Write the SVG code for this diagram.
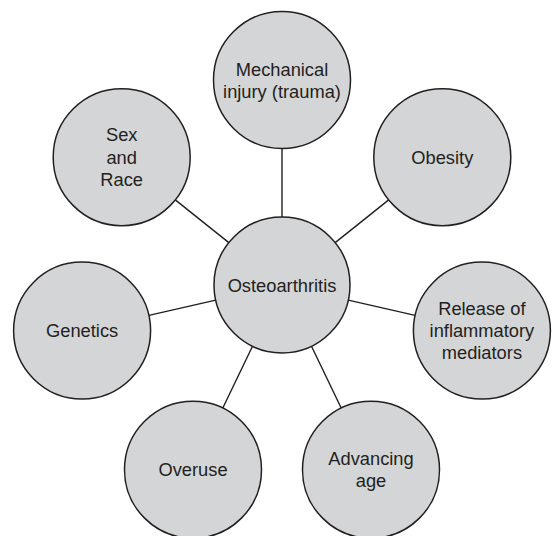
<svg xmlns="http://www.w3.org/2000/svg" width="554" height="536" viewBox="0 0 554 536">
<style>
.n{fill:#d4d5d7;stroke:#231f20;stroke-width:1.5}
.t{font-family:"Liberation Sans",Arial,sans-serif;font-size:18.3px;fill:#231f20;text-anchor:middle}
.c line{stroke:#231f20;stroke-width:1.4}
</style>
<rect width="554" height="536" fill="#ffffff"/>
<g id="connectors" class="c">
<line x1="282" y1="217" x2="282" y2="148.5"/>
<line x1="335.2" y1="242.6" x2="388.7" y2="199.9"/>
<line x1="348.3" y1="300.1" x2="415.1" y2="315.4"/>
<line x1="311.5" y1="346.3" x2="341.2" y2="408"/>
<line x1="252.5" y1="346.3" x2="222.8" y2="408"/>
<line x1="215.7" y1="300.1" x2="148.9" y2="315.4"/>
<line x1="228.8" y1="242.6" x2="175.3" y2="199.9"/>
</g>
<g id="osteoarthritis">
<circle class="n" cx="282" cy="285" r="68"/>
<text class="t" x="282" y="291.5">Osteoarthritis</text>
</g>
<g id="mechanical">
<circle class="n" cx="282" cy="80" r="68.5"/>
<text class="t" x="282" y="75.5">Mechanical</text>
<text class="t" x="282" y="98">injury (trauma)</text>
</g>
<g id="obesity">
<circle class="n" cx="442.3" cy="157.2" r="68.5"/>
<text class="t" x="442.3" y="163.7">Obesity</text>
</g>
<g id="release">
<circle class="n" cx="481.9" cy="330.6" r="68.5"/>
<text class="t" x="481.9" y="314.6">Release of</text>
<text class="t" x="481.9" y="337">inflammatory</text>
<text class="t" x="481.9" y="359.4">mediators</text>
</g>
<g id="advancing">
<circle class="n" cx="371" cy="469.7" r="68.5"/>
<text class="t" x="371" y="465">Advancing</text>
<text class="t" x="371" y="487.4">age</text>
</g>
<g id="overuse">
<circle class="n" cx="193" cy="469.7" r="68.5"/>
<text class="t" x="193" y="476.2">Overuse</text>
</g>
<g id="genetics">
<circle class="n" cx="82.1" cy="330.6" r="68.5"/>
<text class="t" x="82.1" y="337.1">Genetics</text>
</g>
<g id="sexrace">
<circle class="n" cx="121.7" cy="157.2" r="68.5"/>
<text class="t" x="121.7" y="141.2">Sex</text>
<text class="t" x="121.7" y="163.6">and</text>
<text class="t" x="121.7" y="186">Race</text>
</g>
</svg>
